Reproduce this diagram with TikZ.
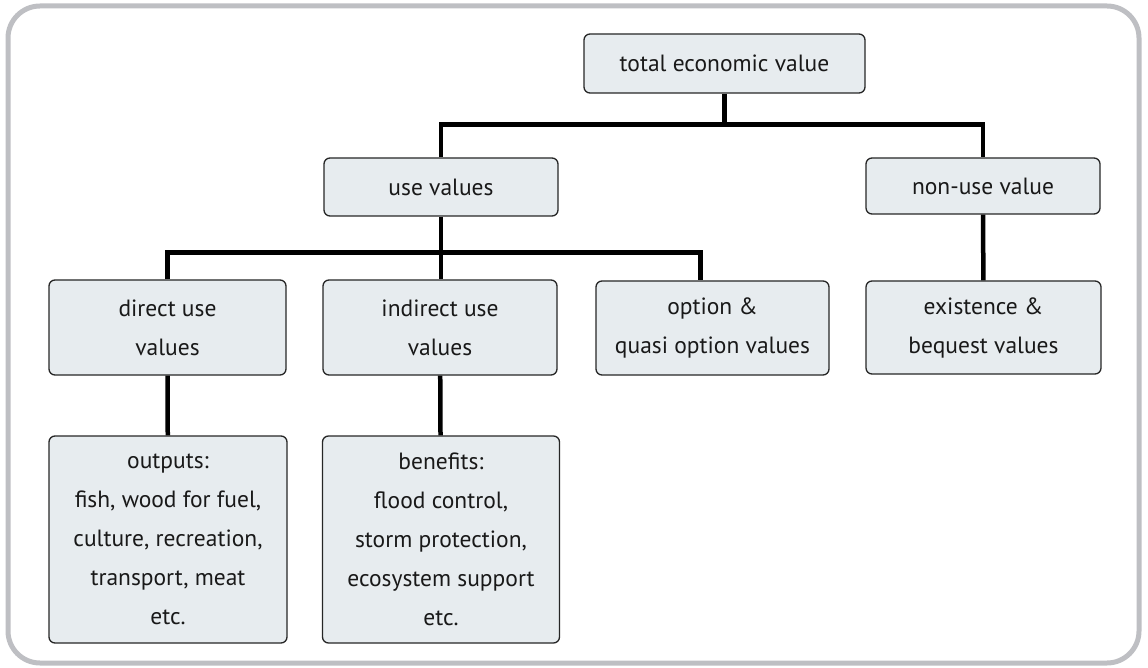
\documentclass[tikz,border=0pt]{standalone}
\usepackage{fontspec}
\setmainfont{PT Sans}
\definecolor{boxfill}{RGB}{231,236,239}
\definecolor{framegray}{RGB}{190,191,195}

\begin{document}
\begin{tikzpicture}[x=1pt,y=-1pt,
  valbox/.style={draw=black!85, line width=1.3pt, rounded corners=6pt, fill=boxfill,
    text=black!90, align=center, inner sep=0pt, font=\fontsize{23.5}{39}\selectfont},
  link/.style={line width=4.5pt, black}]
  \useasboundingbox (0,0) rectangle (1148,668);
  \draw[framegray, line width=5pt, rounded corners=32pt] (8,6) rectangle (1139,663);

  % value boxes
  \node[valbox, minimum width=281pt, minimum height=59pt] (tev) at (724.5,63.5) {total economic value};
  \node[valbox, minimum width=234pt, minimum height=58pt] (use) at (441,187) {use values};
  \node[valbox, minimum width=234pt, minimum height=56pt] (nonuse) at (983,186) {non-use value};
  \node[valbox, minimum width=237pt, minimum height=95pt] (direct) at (167.5,327.5) {direct use\\values};
  \node[valbox, minimum width=234pt, minimum height=95pt] (indirect) at (440,327.5) {indirect use\\values};
  \node[valbox, minimum width=233pt, minimum height=94pt] (option) at (712.5,328) {option \&\\quasi option values};
  \node[valbox, minimum width=235pt, minimum height=93pt] (exist) at (983.5,327.5) {existence \&\\bequest values};
  \node[valbox, minimum width=238pt, minimum height=207pt] (outputs) at (168,539.5)
    {outputs:\\fish, wood for fuel,\\culture, recreation,\\transport, meat\\etc.};
  \node[valbox, minimum width=237pt, minimum height=207pt] (benefits) at (441,539.5)
    {benefits:\\flood control,\\storm protection,\\ecosystem support\\etc.};

  % tree links
  \draw[link] (tev.south) -- ++(0,31) coordinate (tj);
  \draw[link] (use.north) |- (tj) -| (nonuse.north);
  \draw[link] (use.south) -- ++(0,36) coordinate (uj);
  \draw[link] (direct.north) |- (uj) -| ([xshift=-12pt]option.north);
  \draw[link] (uj) -- (uj |- indirect.north);
  \draw[link] (nonuse) -- (exist);
  \draw[link] (direct) -- (outputs);
  \draw[link] (indirect) -- (benefits);
\end{tikzpicture}
\end{document}
